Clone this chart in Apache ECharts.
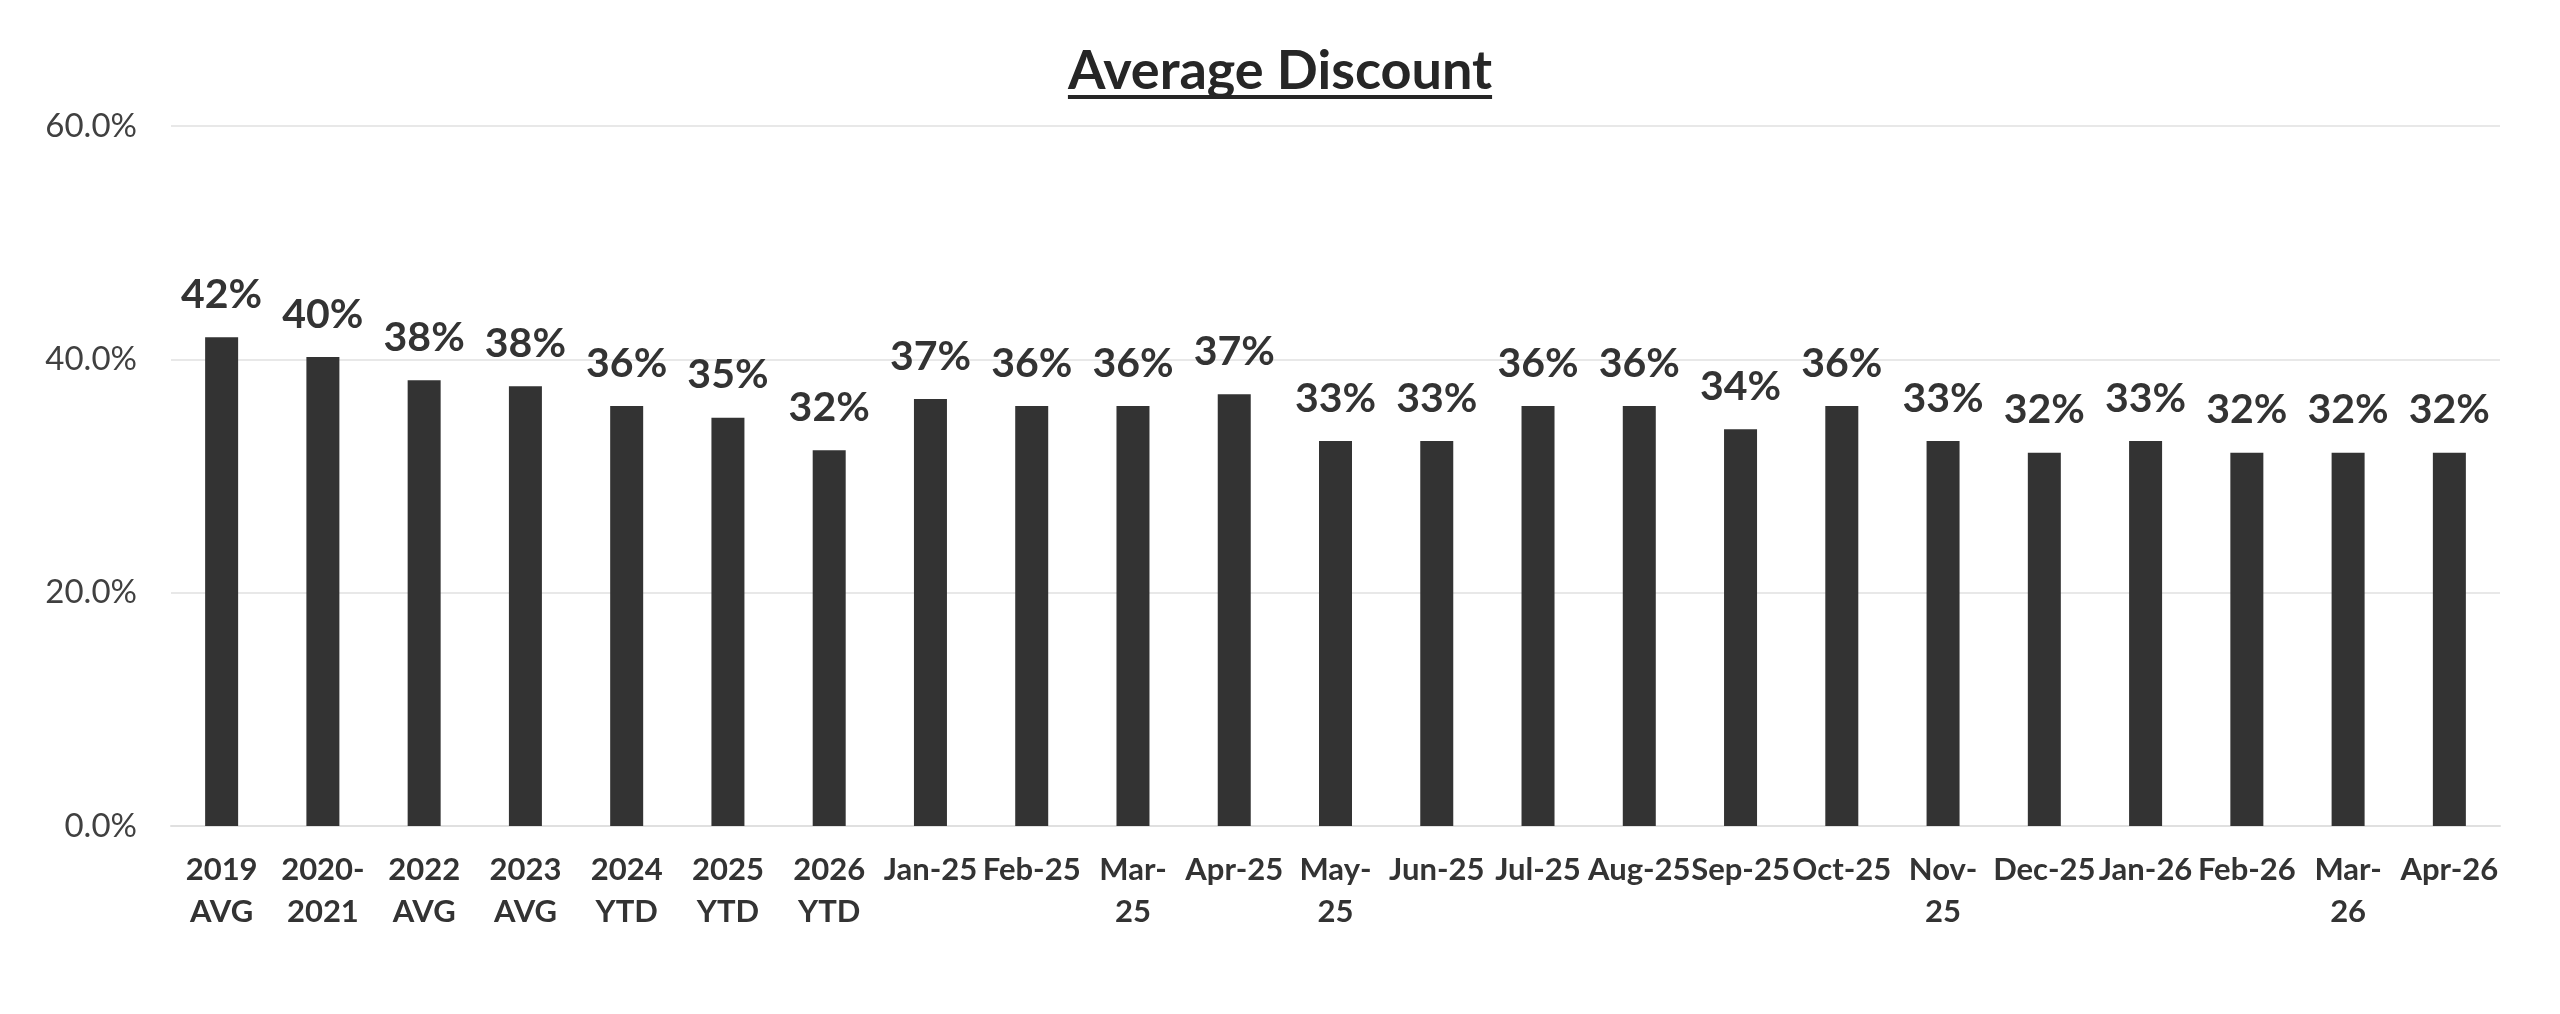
<!DOCTYPE html>
<html>
<head>
<meta charset="utf-8">
<script src="https://cdn.jsdelivr.net/npm/echarts@6/dist/echarts.min.js"></script>
<style>
html,body{margin:0;padding:0;background:#fff;}
#chart{width:2560px;height:1014px;}
</style>
</head>
<body>
<div id="chart"></div>
<script>
const titleText = 'Average Discount';
const categories = ['2019\nAVG','2020-\n2021','2022\nAVG','2023\nAVG','2024\nYTD','2025\nYTD','2026\nYTD','Jan-25','Feb-25','Mar-\n25','Apr-25','May-\n25','Jun-25','Jul-25','Aug-25','Sep-25','Oct-25','Nov-\n25','Dec-25','Jan-26','Feb-26','Mar-\n26','Apr-26'];
const discountValues = [0.419,0.402,0.382,0.377,0.360,0.350,0.322,0.366,0.360,0.360,0.370,0.330,0.330,0.360,0.360,0.340,0.360,0.330,0.320,0.330,0.320,0.320,0.320];
const yTicks = [0, 0.2, 0.4, 0.6];

const FONT = 'Lato';
const chart = echarts.init(document.getElementById('chart'));

const titleFont = 'bold 54px ' + FONT;
const cv = document.createElement('canvas').getContext('2d');
cv.font = titleFont;
const titleW = cv.measureText(titleText).width;

chart.setOption({
  animation: false,
  backgroundColor: '#ffffff',
  title: {
    text: titleText,
    left: 'center',
    top: 40,
    textStyle: {fontFamily: FONT, fontSize: 54, fontWeight: 'bold', color: '#262626'}
  },
  graphic: [{
    type: 'rect',
    left: 1280 - titleW / 2,
    top: 95,
    shape: {width: titleW, height: 4},
    style: {fill: '#262626'}
  }],
  grid: {left: 171, right: 60, top: 126, bottom: 188},
  xAxis: {
    type: 'category',
    data: categories,
    axisLine: {show: true, lineStyle: {color: '#e0e0e0', width: 2}},
    axisTick: {show: false},
    axisLabel: {
      interval: 0,
      margin: 23,
      fontFamily: FONT,
      fontSize: 31,
      fontWeight: 'bold',
      color: '#333333',
      lineHeight: 42
    }
  },
  yAxis: {
    type: 'value',
    min: yTicks[0],
    max: yTicks[yTicks.length - 1],
    interval: 0.2,
    axisLine: {show: false},
    axisTick: {show: false},
    splitLine: {lineStyle: {color: '#e8e8e8', width: 2}},
    axisLabel: {
      margin: 34,
      fontFamily: FONT,
      fontSize: 33,
      color: '#404040',
      formatter: v => (v * 100).toFixed(1) + '%'
    }
  },
  series: [{
    type: 'bar',
    data: discountValues,
    barWidth: 33,
    itemStyle: {color: '#333333'},
    label: {
      show: true,
      position: 'top',
      distance: 22,
      fontFamily: FONT,
      fontSize: 41,
      fontWeight: 'bold',
      color: '#333333',
      formatter: p => Math.round(p.value * 100) + '%'
    }
  }]
});
</script>
</body>
</html>
